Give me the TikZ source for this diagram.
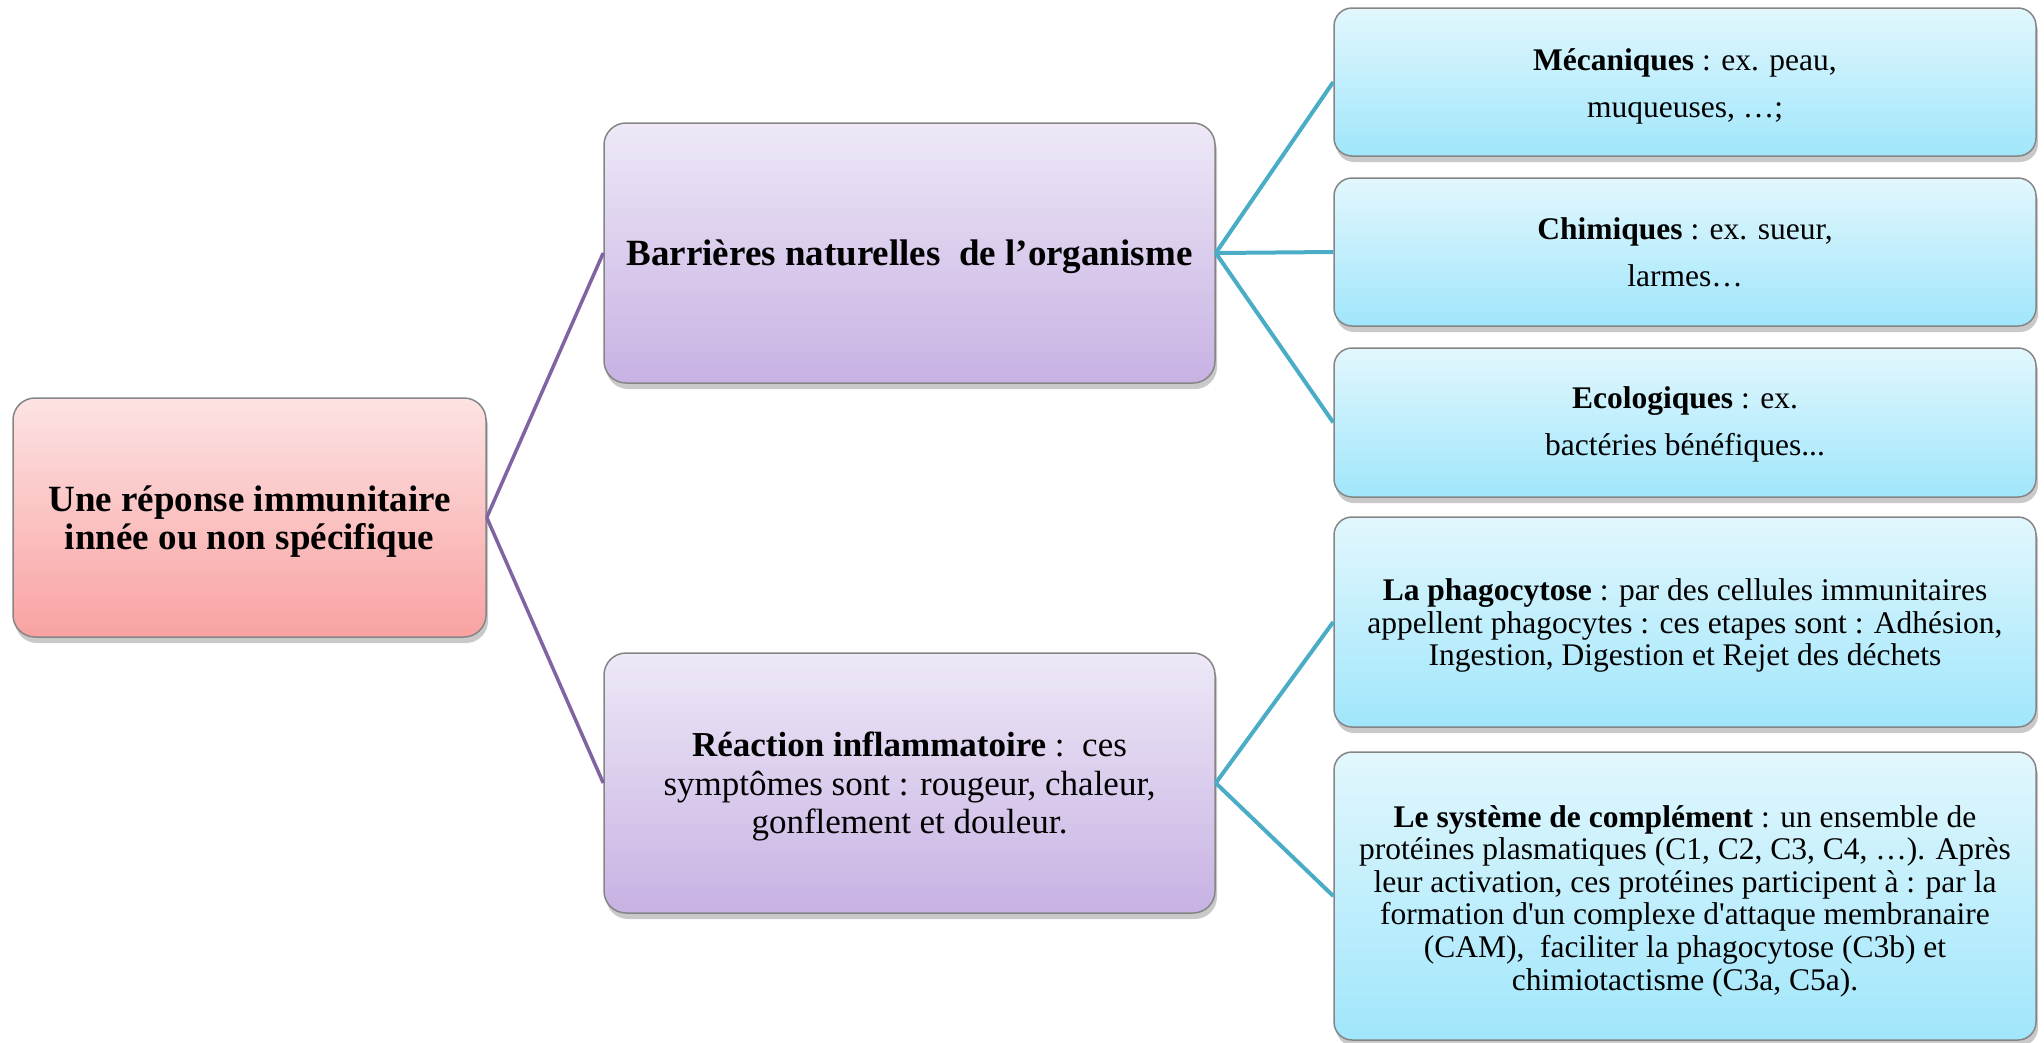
\documentclass[tikz,border=0pt]{standalone}
\usepackage{fontspec}
\setmainfont{Liberation Serif}[Ligatures={TeXOff,CommonOff}]
\usetikzlibrary{shadows}
\definecolor{purpleline}{HTML}{8064A2}
\definecolor{aqualine}{HTML}{4BACC6}
\definecolor{boxborder}{HTML}{858585}
\definecolor{roottop}{HTML}{FDE3E3}
\definecolor{rootbot}{HTML}{F9A2A2}
\definecolor{purptop}{HTML}{EEE8F7}
\definecolor{purpbot}{HTML}{C7B2E3}
\definecolor{aquatop}{HTML}{E2F7FD}
\definecolor{aquabot}{HTML}{A0E6FB}
\newcommand\mytopst{\rule{0pt}{40pt}}
\newcommand\mybotst{\rule[-40pt]{0pt}{40pt}}
\newcommand\mylsl{\lineskiplimit=-100pt\relax}
\tikzset{
  box/.style={rectangle, rounded corners=22pt, draw=boxborder, line width=1.5pt,
    inner sep=0pt,
    drop shadow={shadow xshift=2pt, shadow yshift=-6pt, opacity=0.3, fill=black!70}},
  rootbox/.style={box, top color=roottop, bottom color=rootbot},
  midbox/.style={box, top color=purptop, bottom color=purpbot, minimum width=611pt},
  leafbox/.style={box, rounded corners=18pt, top color=aquatop, bottom color=aquabot,
    minimum width=702pt},
  txt/.style={inner sep=0pt, align=center},
  purpleedge/.style={draw=purpleline, line width=3.5pt},
  aquaedge/.style={draw=aqualine, line width=4pt},
}
\begin{document}
\begin{tikzpicture}[x=1pt, y=-1pt]
\useasboundingbox (0,0) rectangle (2044,1042);

% boxes
\node[rootbox, minimum width=473pt, minimum height=239pt] (root) at (249.5,517.5) {};
\node[midbox, minimum height=260pt] (barr) at (909.5,253) {};
\node[midbox, minimum height=260pt] (reac) at (909.5,783) {};
\node[leafbox, minimum height=148pt] (mec) at (1685,82) {};
\node[leafbox, minimum height=148pt] (chim) at (1685,252) {};
\node[leafbox, minimum height=149pt] (eco) at (1685,422.5) {};
\node[leafbox, minimum height=210pt] (phago) at (1685,622) {};
\node[leafbox, minimum height=288pt] (compl) at (1685,896) {};

% texts (mean baseline about 12pt below box centre)
\node[txt, font={\bfseries\fontsize{37}{38}\selectfont\mylsl}]
  (rootT) at ([yshift=-12.5pt]root.center)
  {\mytopst Une réponse immunitaire\\innée ou non spécifique\mybotst};

\node[txt, font={\bfseries\fontsize{37}{38}\selectfont\mylsl}]
  (barrT) at ([yshift=-12pt]barr.center)
  {\mytopst Barrières naturelles\ \ de l’organisme\mybotst};

\node[txt, font={\fontsize{35}{38.5}\selectfont\mylsl}]
  (reacT) at ([yshift=-12pt]reac.center)
  {\mytopst\textbf{Réaction inflammatoire} :\ \ ces\\symptômes sont : rougeur, chaleur,\\gonflement et douleur.\mybotst};

\node[txt, font={\fontsize{31.5}{46.5}\selectfont\mylsl}]
  (mecT) at ([yshift=-12pt]mec.center)
  {\mytopst\textbf{Mécaniques} : ex. peau,\\muqueuses, …;\mybotst};

\node[txt, font={\fontsize{31.5}{47.5}\selectfont\mylsl}]
  (chimT) at ([yshift=-11pt]chim.center)
  {\mytopst\textbf{Chimiques} : ex. sueur,\\larmes…\mybotst};

\node[txt, font={\fontsize{31.5}{46.5}\selectfont\mylsl}]
  (ecoT) at ([yshift=-9.5pt]eco.center)
  {\mytopst\textbf{Ecologiques} : ex.\\bactéries bénéfiques...\mybotst};

\node[txt, font={\fontsize{31.5}{32.5}\selectfont\mylsl}]
  (phagoT) at ([yshift=-11pt]phago.center)
  {\mytopst\textbf{La phagocytose} : par des cellules immunitaires\\appellent phagocytes : ces etapes sont : Adhésion,\\Ingestion, Digestion et Rejet des déchets\mybotst};

\node[txt, font={\fontsize{31.5}{32.6}\selectfont\mylsl}]
  (complT) at ([yshift=-12.5pt]compl.center)
  {\mytopst\textbf{Le système de complément} : un ensemble de\\protéines plasmatiques (C1, C2, C3, C4, …). Après\\leur activation, ces protéines participent à : par la\\formation d'un complexe d'attaque membranaire\\(CAM),\ \ faciliter la phagocytose (C3b) et\\chimiotactisme (C3a, C5a).\mybotst};

% connectors
\draw[purpleedge] (root.east) -- (barr.west);
\draw[purpleedge] (root.east) -- (reac.west);
\draw[aquaedge] (barr.east) -- (mec.west);
\draw[aquaedge] (barr.east) -- (chim.west);
\draw[aquaedge] (barr.east) -- (eco.west);
\draw[aquaedge] (reac.east) -- (phago.west);
\draw[aquaedge] (reac.east) -- (compl.west);
\end{tikzpicture}
\end{document}
